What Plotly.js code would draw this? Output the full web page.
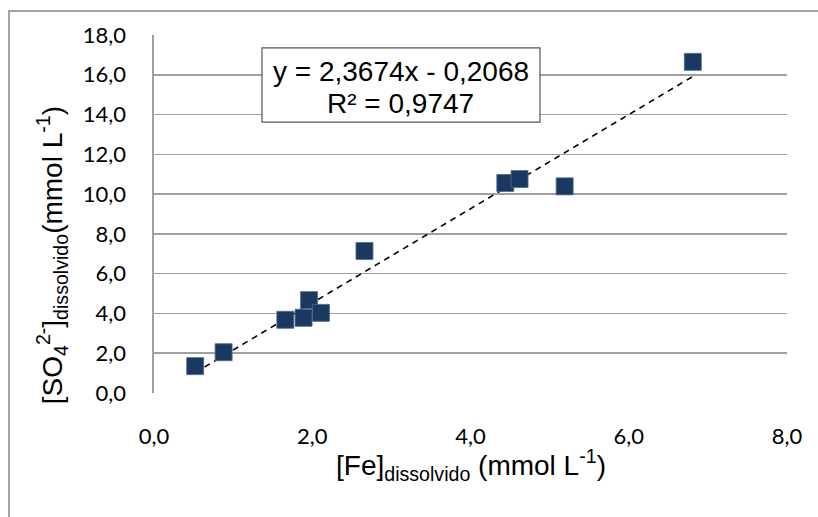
<!DOCTYPE html>
<html>
<head>
<meta charset="utf-8">
<script src="https://cdn.plot.ly/plotly-3.0.1.min.js"></script>
<style>
  html, body { margin: 0; padding: 0; background: #ffffff; overflow: hidden; }
  #wrap { position: relative; width: 818px; height: 517px; overflow: hidden; }
  #frame { position: absolute; left: 8px; top: 10px; width: 900px; height: 600px;
           border: 2px solid #a3a3a3; box-sizing: border-box; pointer-events: none; }
  #chart { position: absolute; left: 0; top: 0; width: 818px; height: 517px; }
</style>
</head>
<body>
<div id="wrap">
  <div id="frame"></div>
  <div id="chart"></div>
</div>
<script>
// Dissolved iron vs dissolved sulfate (mmol L-1)
const feDissolved = [0.52, 0.88, 1.66, 1.89, 1.96, 2.11, 2.66, 4.44, 4.62, 5.19, 6.81];
const so4Dissolved = [1.35, 2.05, 3.68, 3.78, 4.67, 4.03, 7.14, 10.56, 10.76, 10.39, 16.65];

// Linear fit as reported on the chart
const fitSlope = 2.3674;
const fitIntercept = -0.2068;
const fitR2 = 0.9747;

const yTickValues = [0, 2, 4, 6, 8, 10, 12, 14, 16, 18];
const xTickValues = [0, 2, 4, 6, 8];

const fmt = (v, d) => v.toFixed(d).replace('.', ',');

const xMin = Math.min(...feDissolved);
const xMax = Math.max(...feDissolved);
const fitX = [xMin, xMax];
const fitY = fitX.map(x => fitSlope * x + fitIntercept);

const points = {
  type: 'scatter',
  mode: 'markers',
  x: feDissolved,
  y: so4Dissolved,
  marker: {
    symbol: 'square',
    size: 17,
    color: '#1a3962',
    line: { color: '#4d6a91', width: 0.8 }
  },
  hoverinfo: 'x+y',
  showlegend: false
};

const trend = {
  type: 'scatter',
  mode: 'lines',
  x: fitX,
  y: fitY,
  line: { color: '#000000', width: 1.6, dash: '6px,5px' },
  hoverinfo: 'skip',
  showlegend: false
};

const eqLine1 = 'y = ' + fmt(fitSlope, 4) + 'x - ' + fmt(Math.abs(fitIntercept), 4);
const eqLine2 = 'R² = ' + fmt(fitR2, 4);
const eqFont = { family: 'Liberation Sans, Arial, sans-serif', size: 28, color: '#000000' };
const tickFont = { family: 'Lato, Open Sans, sans-serif', size: 22, color: '#000000' };

const layout = {
  width: 818,
  height: 517,
  margin: { l: 154, r: 31, t: 35, b: 124 },
  paper_bgcolor: 'rgba(0,0,0,0)',
  plot_bgcolor: 'rgba(0,0,0,0)',
  separators: ', ',
  font: { family: 'Liberation Sans, Arial, sans-serif', color: '#000000' },
  xaxis: {
    range: [0, 8],
    tickvals: xTickValues,
    ticktext: xTickValues.map(v => fmt(v, 1)),
    showgrid: false,
    zeroline: false,
    showline: false,
    ticks: 'outside',
    ticklen: 24,
    tickcolor: 'rgba(0,0,0,0)',
    tickfont: tickFont,
    fixedrange: true
  },
  yaxis: {
    range: [0, 18],
    tickvals: yTickValues,
    ticktext: yTickValues.map(v => fmt(v, 1)),
    showgrid: true,
    gridcolor: '#a0a0a0',
    gridwidth: 1.6,
    zeroline: false,
    showline: true,
    linecolor: '#a0a0a0',
    linewidth: 1.6,
    ticks: 'outside',
    ticklen: 22,
    tickcolor: 'rgba(0,0,0,0)',
    tickfont: tickFont,
    fixedrange: true
  },
  shapes: [
    {
      // frame around the regression equation
      type: 'rect',
      xref: 'x', yref: 'y',
      x0: 1.365, x1: 4.878,
      y0: 13.62, y1: 17.35,
      fillcolor: '#ffffff',
      line: { color: '#555555', width: 1.2 },
      layer: 'above'
    }
  ],
  annotations: [
    {
      xref: 'x', yref: 'y',
      x: 3.12, y: 16.15,
      xanchor: 'center', yanchor: 'middle',
      text: eqLine1,
      showarrow: false,
      font: eqFont
    },
    {
      xref: 'x', yref: 'y',
      x: 3.12, y: 14.58,
      xanchor: 'center', yanchor: 'middle',
      text: eqLine2,
      showarrow: false,
      font: eqFont
    },
    {
      xref: 'paper', yref: 'paper',
      x: 0.5, y: -0.2,
      xanchor: 'center', yanchor: 'middle',
      text: '[Fe]<sub>dissolvido</sub> (mmol L<sup>-1</sup>)',
      showarrow: false,
      font: { family: 'Liberation Sans, Arial, sans-serif', size: 28, color: '#000000' }
    },
    {
      xref: 'paper', yref: 'paper',
      x: -0.161, y: 0.385,
      xanchor: 'center', yanchor: 'middle',
      textangle: -90,
      text: '[SO<sub>4</sub><sup>2-</sup>]<sub>dissolvido</sub>(mmol L<sup>-1</sup>)',
      showarrow: false,
      font: { family: 'Liberation Sans, Arial, sans-serif', size: 28, color: '#000000' }
    }
  ]
};

Plotly.newPlot('chart', [trend, points], layout, { displayModeBar: false, staticPlot: true });
</script>
</body>
</html>
